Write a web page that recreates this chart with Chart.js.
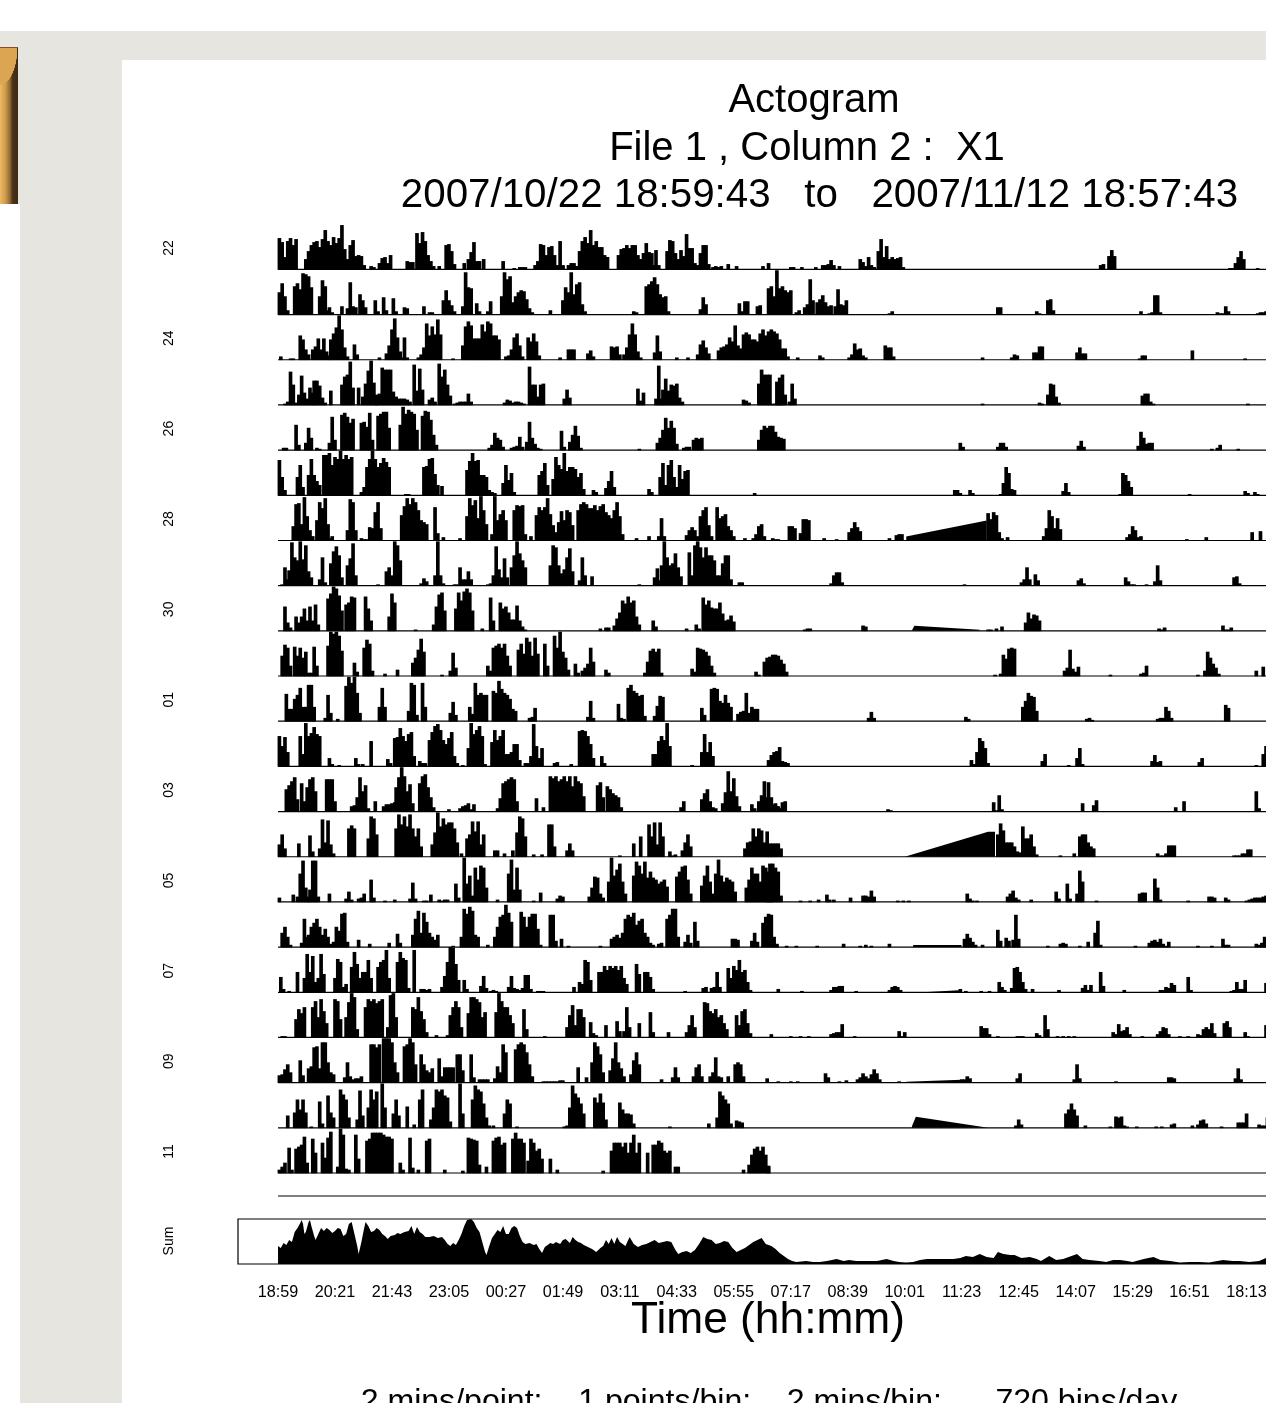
<!DOCTYPE html>
<html>
<head>
<meta charset="utf-8">
<title>Actogram</title>
<script src="https://cdn.jsdelivr.net/npm/chart.js@4"></script>
<style>
html, body { margin: 0; padding: 0; background: #fff; overflow: hidden; width: 1266px; height: 1403px; }
body { position: relative; font-family: "Liberation Sans", Arial, sans-serif; color: #000; }
#band { position: absolute; left: 0; top: 31px; width: 1266px; height: 173px; background: #e6e5e0; }
#column { position: absolute; left: 20px; top: 204px; width: 102px; height: 1199px; background: #e6e5e0; }
#panel { position: absolute; left: 122px; top: 60px; width: 1144px; height: 1343px; background: #fff; }
#gold { position: absolute; left: 0; top: 47px; width: 17.5px; height: 156px; border-top: 1px solid #8a4a2a;
    background: linear-gradient(to right, #f0b864 0, #cf9c4c 30%, #8f6a33 55%, #4a3418 70%, #3d2a12 100%); }
#corner { position: absolute; left: 0; top: 48px; width: 17.5px; height: 37px;
    background: radial-gradient(ellipse 17.5px 37px at 0 0, #dca552 0 98%, transparent 100%); }
canvas { position: absolute; left: 122px; top: 60px; filter: blur(0.4px); }
.line { position: absolute; white-space: pre; transform: translateX(-50%); font-size: 40px; line-height: 48px; }
</style>
</head>
<body>
<div id="band"></div>
<div id="column"></div>
<div id="panel"></div>
<div id="gold"></div>
<div id="corner"></div>
<canvas id="actogram" width="1180" height="1343"></canvas>
<div class="line" style="left:814px;top:74px">Actogram</div>
<div class="line" style="left:807px;top:121.5px">File 1 , Column 2 :  X1</div>
<div class="line" style="left:819.5px;top:169.5px;font-size:40.3px">2007/10/22 18:59:43   to   2007/11/12 18:57:43</div>
<div class="line" style="left:769px;top:1376px;font-size:32.1px">2 mins/point:    1 points/bin:    2 mins/bin:      720 bins/day</div>
<script>
// Each row is a list of bursts: [first bin, value, value, ...], one value per 2 bins
const row22 = [[0,31,27,12,28,31,24,30],[19,10,18,24,27,28,22,30,39,28,24,32,26,31,44,20,10,10,4],[51,24,29,13,14,13,4],[66,3,2],[72,6,11,12,6,14],[92,8,7,7],[99,36,26,37,28,14,8,3],[115,3],[120,24,25,18,5],[133,6],[136,10,17,27,8],[144,8],[147,10],[161,8],[169,1,0,2,2,2],[184,4,8,25,24,14,22,23,14,4,3,3],[202,28,4],[208,4,6,6,3],[216,18,28,32,26,39,24,28,22,22,14,12],[236,12],[244,14,20,21,24,21,24,24,14,10,6],[260,10,16,26,17,16,4],[271,19,4],[279,18,29,28,16,10,19,13,35,21,21,6,4],[303,16,24,24,5],[312,2,3,2,3],[323,5],[329,3],[348,3,0,6],[368,2,2],[376,2],[386,2],[391,4,4,5,9,4],[403,3],[418,10,7,3,12,4,2],[431,18,30,12,23,10,12,10,11,12,2],[591,4,5,0,13,19,13],[684,1,1,6,12,18,10],[704,1]];
const row23 = [[0,22,31,18,4],[11,28,31,25,41,40,38,27],[29,18,34,28,4],[36,7,2],[45,8],[49,6,32,8,7],[58,20,14,7],[69,14,3],[75,17,4],[82,16,3],[90,7,6],[104,8],[108,2,2],[118,14,24,14,9,3],[132,8,42,27,26],[142,11,3],[150,3,13],[160,18,42,35,38,12],[170,18,22,24,23,15,6,2],[195,4],[204,14,27,22,42,20,30,32,10,3],[255,3,2],[264,28,30,33,37,30,20,17,18,3],[303,5,17,10],[331,11,3,13,13],[344,8,9],[352,26,28,18,44,26,28,24,22,24],[372,2,4],[378,7,10,35,14],[387,12,15,19,12,8,9],[400,8,25,10,9,14],[439,1,3],[517,7,7],[545,3,1,0,0,14,15,4],[620,3],[626,1,2,19,19,2],[675,2,1,1,8,3],[704,1,2,2,3]];
const row24 = [[1,3],[8,1,1],[15,24,20,10,5],[24,10,13,21,10,21,8,4],[37,20,26,32,44,30,12,3],[54,15,5],[72,2],[77,6,14,30,41,22,8,2],[90,22,2],[100,2,5,12,36,24,33,25,40,25],[125,1],[132,14,33,38,34,21,21],[144,21,35,28,38,36,24,24,20],[163,3,4,10,22,26,14,3],[179,22,18,26,18,4],[202,2,0,0,10,10,10],[222,6,9,3],[239,13,12,13,5],[248,5,12,25,36,25,8,2],[270,7,24,8],[286,2],[294,2],[301,5,15,19,12,6],[316,9,12,13],[322,15,22,18,34,14,11,25,27,25,20,20,18,26,30,24,28],[354,30,28,26,20,11,11,3],[373,2],[389,4,2],[410,2,5,16,10,11,4,2],[436,14,12,12,3],[506,2],[527,2,5,4],[543,7,7,13,13],[574,7,12,6,6],[619,1,4,4],[657,9],[695,1]];
const row25 = [[4,1,3,33,20,2],[14,10,29,12,6],[22,17,12],[25,24,24,19,7,2],[37,14],[45,20,28,30,43,17],[57,17],[60,8,21,34,44,22,10],[70,3,11,37,35,35,35,13],[84,8,6,6,6,5,3],[97,40,14,36,15],[108,5,7,3],[115,41,28,35,20,9],[126,1,2,3,3,3,11,3],[162,2,5,4,2,3,3,2,1],[180,38,20,20,8,20,21],[205,6,15,7],[258,16,4,12],[271,6,39,6],[276,15,26,14,20,19,21,7,3],[334,5,4,2],[345,21,35,30,30],[353,30,1,1,2,2],[358,23,27,30,10],[367,3,21,6],[506,1],[547,2,1,0,10,21,20,8,2],[621,9,11,11,3,1],[697,1]];
const row26 = [[3,2,2],[12,25,5],[19,7,22,12],[27,2,1],[36,7,33,10],[45,35,37,33,27,31],[59,27,28,23,37,10],[71,34,36,38,38,22],[87,25,43,36,40,38,36,20],[103,34,39,38,30,15,5],[151,2,5,17,12,10,3],[167,2,3,4,13,3],[178,8,28,12,6,2,1],[203,19,3],[209,8,15,24,14,2],[259,1],[272,7,12,20,32,22,29,22,6],[291,2,3,3],[298,10,12,11,12],[345,10,20,24,22],[353,24,24,18,13,12,11],[490,7,3],[517,3,7,7,3],[575,4,9,3],[618,4,18,12,6,7,7],[671,1],[675,2,5],[690,1]];
const row27 = [[0,35,18,5],[13,18,30,8],[21,20,36,20,14,10],[32,40,40,42,30,38,36,44,36,40,36,38],[59,3,8,28,36,44,36,28,32,37,33,28],[91,1,1],[104,28,29,36,37,21,10],[117,9],[135,25,34,42,34,35,20,20,18,5,3,2],[161,12,30,15,22,3],[187,20,24,32,10],[197,16,38,30,26,42,24,28,28,26,18,22,6],[226,5,3],[235,7,14,24,8],[266,6,3],[274,18,32,10,30,35,18,8,30,16,24,25],[342,2],[486,5,5,2],[497,5,2],[519,1,12,28,22,6,5],[564,4,12,3],[605,1,22,20,14,8],[655,1],[695,4,2],[702,3,1]];
const row28 = [[10,14,36,37,16,43,24,10,4],[27,20,38,32,42,16,2],[38,4],[49,10,41,38,10],[59,2,1,1,13,12,28,38,12],[88,25,34,42,36,42,38,30,20,18,16],[112,33,7],[118,3],[130,2],[135,24,42,35,40,22,44,30,16],[153,6,44,20,26,30,20],[169,30,35,34,35,6],[181,4],[185,25,33,30,33,42,26,15,8],[201,18,29,20,30,28,15],[215,30,36,38,36,32,32,35,30,34,36,28,25,22,30,38,24,6],[257,2],[266,4],[273,4,22,4],[293,5,10,13,10,4],[303,24,30,33,15,4],[315,33,22,24,26,14,10,4],[335,2],[341,2,6,14,16,4],[355,2,1,1],[367,14,14,12],[375,7,21,21,20],[392,2],[401,1],[410,8,12,18,13,9],[439,2],[444,5,6,6],[510,27,21,28,25],[518,8,2],[524,3],[550,4,12,30,24,12,22,11],[610,3,6,14,10,3,4],[653,1],[667,3],[700,8],[706,9]];
const row29 = [[2,1,18,6],[7,15,43,28,25,44,26,40,14,8],[29,6,28,3],[37,22,34,39,30,8],[49,20,27,42,10],[71,1],[77,14,18,10,44,40,25],[102,2,7,4],[112,10,44,10],[118,2],[126,1,1,18,6,6,14,6],[150,1,2,10,39,16,8,27,8],[167,18,30,44,32,25,18],[195,20,40,38,20,12,16,28,37,14],[216,5,28,10],[225,9],[259,1],[270,8,17,5],[275,20,44,28,20,22,32,18,9],[295,33,10,40,44,38,28,38,30,30,25,10,10,22,30,30,6],[331,3,3],[397,2,10,13,13,3],[493,1],[534,3,6,18,6,0,11,5],[575,5,7,2],[609,8,4,1,1],[624,1],[630,4,20,5],[687,8,9,2]];
const row30 = [[4,24,8,3],[12,14,8,14,22,10,24,10,26,6],[35,32,37,44,42,35,20],[48,26,28,34,33],[62,34,22,10],[79,14,37,28],[98,1],[111,6,24,36,38,20],[127,22,38,30,39,42,38,20],[146,2],[152,33,10],[159,28,22,24,18,11,11,25,10,4,1],[231,2,0,3,3],[241,5,12,18,30,27,34,28,30,14,6],[269,10,4],[293,2],[300,6,2],[305,33,26,30,23,22,22,28,17,10,11,15,9],[378,1,2,2],[420,5,4],[510,1,1,0,2,0,4],[537,8,18,12,16,15,10],[633,2,1,3],[679,5,1,1,3]];
const row31 = [[2,20,31,28,10],[11,29,20,28,18,24,3],[23,3,29,10],[35,30,44,42,44,40,25],[54,13,4],[61,28,36,32,5],[76,2],[85,6],[96,13,18,26,37,24],[117,1],[123,5,23,8],[150,10,5],[154,28,30,32,28,32,20,10],[172,26,32,22,38,34,20,38,22],[191,32,10],[198,40,28,44,24,18,6],[213,12,3],[218,5,8,12,28,14],[235,6,3],[263,3,14,25,27,24,27,3],[297,7,4,28,27,26,24,20,10,3],[343,4,1],[349,14,18,19,21,21,20,16,12,4],[515,1],[519,2,21,17,27,28,27],[565,5,8,26,7,4,9],[598,1],[620,2,3,10],[661,1],[666,5,24,18,12,8,2],[703,5],[708,9]];
const row01 = [[5,27,12,12,22,26,33,14,14,36,36,14],[33,3,26,8],[42,2],[48,35,44,38,44,28,8],[72,14,33,14],[93,10,38,36,6],[103,38,14],[123,8,19,6],[137,14,7,38,26,28,26,26],[154,30,28,40,32,28,26,22,12,10],[180,3,4,13],[222,4,20,3],[244,17,3,2],[251,33,36,30,28,25,26,5],[270,5,15,25,24],[304,13,6],[311,32,33,32,20,18,26,18,14],[330,7,9,10,28,8,14,12,12],[424,3,9,3],[494,4,2],[535,14,20,28,25,24,10],[581,2,3,1],[632,2,3,3,14,10,3],[681,16,13]];
const row02 = [[0,30,20,29,14],[15,30,12,43,30,33,39,32,30],[36,8,2],[43,1],[55,8,2],[60,2],[66,25],[78,7,3],[83,28,29,38,30,25,32,34,10],[101,5,3,3],[108,26,34,40,42,36,26,22,28,34,10,3],[132,1],[136,18,43,32,36,40,30,2],[153,24,36,26,30,36,12],[165,12,14,22,22,6],[177,3,3,10,42,20,8,18],[198,3,4],[210,2],[216,35,36,35,30,22,8],[232,10,3],[269,12,12,25,30,26,43,20],[297,1],[304,14,32,14,24,10],[352,6,11,14,15,19,5,4,3],[498,6,2],[502,14,28,25,18,3],[549,5,12],[568,1],[574,8,18,2],[628,5,11,4,5],[662,4,8],[703,1],[708,12,20]];
const row03 = [[5,22,26,30,34,12],[16,28,10,24,32,34,20],[34,32,32,32,10],[52,5,6,14,34,20,26,3],[69,10],[75,5,7,7,8,9],[84,24,34,44,35,20,27,8],[101,28,35,37,24,14,4],[122,2],[130,3,5,6,8,2,7],[157,3,13,28,30,32,34,32,10],[185,13],[190,4],[195,35,33,35,30,32,35,30,35,25,35,30,28,15],[229,26,29,14],[236,25,22,18,16,14,4],[289,4,10],[304,12,18,22,10,4,3],[319,8,19,40,20,33,15,5],[340,7,3],[345,10,16,30,14,10,6,8,5],[352,29,14,7,5,3,9,10],[438,2,1],[514,9,1,1],[518,16,2],[578,8],[586,6,11],[645,4],[651,10],[703,20,3]];
const row04 = [[0,12,22,8],[14,13],[22,21,5],[29,8,37,14,36,12,3],[50,28,31,28],[64,18,40,38,22],[84,28,42,32,40,30,42,28,20,28,10],[110,12,24,44,30,38,32,34,34,28,14],[131,3],[135,18,22,35,25,35,12,22],[155,6,6],[162,3],[168,6],[171,24,40,38,20],[183,2,0,0,2],[194,32,32,10],[207,6,13,6],[245,1],[255,13],[260,20],[266,32,20,34,12,34,20],[281,5,1,2],[290,6,14,22,10],[335,8,14,15,28,20,28,26,14,12,13,12,8],[351,25,12,13,13,13,8],[517,22,33,26,14,14,14,10,5,4,30,18,18,22,10,2],[562,1],[572,3],[576,20,22,22,14,10,8],[632,3,1,1,3,11,11,11],[687,1,1,1,3,3,7,7]];
const row05 = [[0,4],[10,7],[13,5,28,41,14,5],[22,12,41,41,5],[36,8],[48,3,10,2],[57,3,4,8],[66,22,4],[76,1],[83,2],[94,3,19,3],[104,1,1],[109,7],[115,2,1,2,2],[127,18,4],[133,44,18,26,6],[141,34,22,36,34,14],[157,2],[165,28,42,12,34,12],[183,1],[188,9],[200,3,6,5],[223,5,14,25,24,8,4],[237,20,44,26,32,38,20,8],[255,26,40,36,28,40,24,30,24,22,18,20,22,15],[286,25,30,35,36,22,8],[304,16,26,36,20,8],[314,28,42,26,20,24,22,20,10],[336,14,22,34,28,28,20,36,34,30,8],[351,12,38,38,34,30,6],[375,1],[382,1],[388,2],[394,7,2],[399,2],[411,4],[420,6,6,5,11,5],[445,1,0,1,0,1],[495,8,3,1],[502,1],[524,5,8,11,4,2],[541,2],[559,10,3],[567,18,3],[574,8,31,20],[588,1],[619,8,9,9],[630,23,14,2],[654,1],[669,5,5,4],[681,4,2],[696,1,2,3,4,4,4,5,6,9,13]];
const row06 = [[2,14,20,10,2],[16,4,28,10],[21,12,20,24,28,20,12,18,10,3],[39,5,20,16,33,34,5],[57,7],[65,3],[79,4],[85,13,4],[96,12,28,36,14,34,25,14,10,7,12],[125,1],[131,10,38,33,40,36,12,10],[150,2],[155,10,20,30,32,42,34,25],[174,35,30,20,30,33,33,18,2],[195,32,32,6],[203,8],[208,1],[231,1],[239,8,10,12,9,14,28,32,30,34,22,26,28,14,10,4,2],[273,3,4],[279,28,32,38,38,10],[292,5,12,4],[299,25,6],[326,8,8,7],[340,6,14,5],[348,24,30,33,32,10,3],[358,2],[365,1],[372,1],[387,1],[406,3],[418,1,0,2,0,1],[439,3],[493,8,13,9,5,2],[506,2],[517,17,6],[523,9,6],[528,7,32,8],[553,1],[562,3,4,3],[576,1],[582,5],[587,14,26,2],[616,1],[626,4,6,7,5,8,3,1],[640,5],[661,1],[671,1],[679,8,2,2],[703,3,2,4,10,6]];
const row07 = [[1,15,3],[7,1],[13,20],[18,14,38,20,36,10,14,38,18],[40,14,33,30,5],[48,8],[52,25,40,28,14],[60,20,20,32,14],[71,25,30,32,42,14],[85,30,40,34,32,4],[97,42],[102,3,3,2,3],[117,5,16,30,45,44,28,12],[133,12,3],[145,6,16,4],[152,1,2,1],[165,5,16,4,3],[173,2,4,17,17,3],[186,1,1,1],[212,5],[216,10,8,32,30,12],[230,20,20,26,22,26,24,26,22,26,14,8],[257,28,18],[263,20,20,15,3],[292,1],[305,4,5],[311,4,5,20,5],[323,24,14,26,22,32,20,22,10,2],[359,3],[376,1],[397,2,5,5,6,6],[415,1],[439,2,5,6,5,2],[490,3],[494,1],[505,1,0,0,1],[518,10,5,2],[527,4,24,25,20,10,3],[542,3],[561,2],[578,4,7,2,7],[591,20,6],[608,2],[634,2,2,5,4,9,7],[654,15,2],[685,1,2,10,3,3,12],[710,9]];
const row08 = [[2,1,1],[12,18,28,24,30],[24,30,36,20,38,26,14],[40,38,36,18],[48,20,35,44,40,8],[62,30,38,36,38,34,36,38],[78,10,42,44,20],[96,30,28,40,26,18,5],[113,2,0,0,0,2],[123,22,30,36,30,10],[136,24,40,40,38,35,20,25],[156,25,44,36,30,30,22,14],[176,28,8],[191,1],[207,10,22,32,12,28,28,20],[224,15,4,2],[235,12],[243,16,6],[248,6,30,10],[259,14],[267,25,5],[280,5],[293,5,12,22,10],[306,35,34,26,24,28,20,22,14,8],[329,22,12,26,28,14,4],[354,3],[368,1],[375,1],[381,1],[397,3,4,5,5,13],[414,1],[446,6,1,5],[505,11,9,9,3],[517,1],[531,1,1,1],[545,4,2,0,22,8],[560,1,0,1,0,1,0,1],[600,5,3,13,6,7,10,3],[621,1],[632,3,6,10,9,3],[648,1],[654,1],[661,3,2,8,10,8,14,4],[680,14,16,10],[695,5,1],[710,12]];
const row09 = [[0,7,8,13,18,10],[15,22,7],[21,14,16,35,36,14],[31,40,40,20,10,8],[47,5,20,6],[53,3,4,4,6],[66,38,38,35,38],[75,44,44,44,40,20,10],[90,36,38,44,40,18],[102,28,18,12,10,14],[115,24,6],[119,15,15,15,15],[128,28,28,12],[138,28,5],[144,3,3,3,3],[155,4,16,10,38,30],[170,33,38,40,38,30,18,6],[190,1,1,1,1,1,1,2,2],[215,15],[221,5],[225,20,40,36,28,10],[238,12,24,40,20,14,6],[253,8,22,30,18],[275,3],[283,5,15,5],[298,6,15,18,6],[310,6,10,25,6,5],[323,6],[328,18,20,18,6],[351,4],[359,1],[368,1],[373,1],[393,9,5],[403,1],[408,2],[416,3,5,9,6,4,8,13,9,3],[446,1],[491,3,3],[495,6,4],[531,4,9],[572,3,18,4],[602,1],[640,5,5,4],[688,4,14,3]];
const row10 = [[6,12],[11,15,28,18,28,15],[23,1],[29,26,4],[35,32,15,10],[44,38,33,28,10],[56,8,37,12],[64,20,38,28,36],[74,44,20],[82,14,28,12],[92,21],[97,3],[101,28,38],[109,8,20,38,36,38,32,30,6],[130,44,14],[139,28,42,38,36,24,10,2],[154,2],[162,14,28,24],[171,1],[205,1],[207,2,20,42,34,30,24,14],[227,30,25,34,25,8],[245,25,18,14,14,13,4],[281,1],[309,4],[315,10,36,32,28,24,4],[329,7,6,5],[530,2,8,3],[566,14,18,24,18,12],[580,2],[598,1],[602,11,10,11,2,1],[617,1],[631,1],[635,1],[642,3,4],[657,2],[661,3,7,8,4],[678,1],[690,5,5,5,14],[705,3,2,2,10]];
const row11 = [[0,3,6,10],[7,25,3],[12,24,26,28,36,10],[24,34,20],[31,30,15,35,41],[42,6,44,38,4,3],[55,38,14],[63,32,34,40,40,40,40,38,36,36,34],[87,10,3],[94,35,5],[100,3],[106,32,34],[119,3],[132,2],[136,35,34,33,32,8],[149,6],[154,32,35,36,28,30],[168,34,40,34,34,30],[179,12,34,30,22,24,14],[195,14],[200,3],[233,2],[239,22,30,30,30,26,30,20,30,38,20,30],[265,20],[269,28,28,32,30,22,20,22],[285,6,6],[334,3],[338,8,18,24,26,22,26,18,6],[352,7]];
const rows = [row22, row23, row24, row25, row26, row27, row28, row29, row30, row31, row01, row02, row03, row04, row05, row06, row07, row08, row09, row10, row11];

// interpolated gaps in the recording: [bin, value] at both ends, keyed by row index
const ramp28 = [[452,4],[510,20]];
const ramp30 = [[456,0],[458,5],[505,1]];
const ramp04 = [[451,0],[511,25],[516,25]];
const ramp06 = [[457,2],[492,2]];
const ramp07 = [[464,0],[490,2]];
const ramp09 = [[452,1],[492,3]];
const ramp10 = [[456,1],[459,11],[511,0]];
const rampRows = [[6, ramp28], [8, ramp30], [13, ramp04], [15, ramp06], [16, ramp07], [18, ramp09], [19, ramp10]];

const sumBins = [0,0,2,4,6,8,10,12,14,16,17,18,19,20,22,23,24,26,27,29,31,33,35,37,39,41,43,45,47,49,51,53,55,57,58,60,62,63,65,67,69,71,73,75,77,79,81,84,86,88,91,94,96,98,100,102,104,106,109,112,115,118,120,122,124,126,128,130,132,134,136,139,141,143,145,147,149,150,152,154,156,158,160,162,164,166,168,170,172,174,176,178,181,184,186,188,190,192,194,196,198,200,203,205,207,210,212,214,216,218,220,223,226,229,232,234,236,238,240,242,244,246,248,250,253,256,259,262,265,268,271,274,277,280,283,286,288,291,294,297,300,303,306,309,312,315,318,321,324,327,330,333,336,339,342,345,348,351,355,358,361,364,367,370,373,380,385,390,395,402,407,411,416,421,426,431,438,443,447,452,457,462,467,486,491,495,500,505,510,515,518,522,527,530,535,541,546,549,555,560,565,569,575,579,584,591,596,601,606,611,615,623,630,635,642,649,656,663,670,680,687,692,699,706,711,720];
const sumVals = [0,18,16,21,19,24,22,32,36,41,44,40,30,32,42,44,38,28,24,30,36,33,36,34,31,33,36,35,28,30,40,42,30,18,10,22,36,42,38,32,33,36,34,30,28,25,28,29,31,30,32,33,38,30,37,32,30,27,27,28,26,27,24,20,18,21,19,24,30,38,44,45,42,36,32,22,12,9,18,26,30,34,32,38,30,30,36,38,36,28,22,20,21,19,20,15,11,17,19,21,20,22,20,24,25,21,27,24,22,21,19,17,15,12,16,18,24,20,26,20,27,22,20,18,27,20,17,19,20,22,24,21,22,23,22,14,10,12,13,11,14,20,27,25,24,20,21,23,22,16,12,14,16,19,22,24,26,20,18,15,11,8,5,3,2,3,2,2,3,5,3,4,3,3,3,3,5,3,2,1.5,2,4,5,5,6,8,7,10,7,6,12,10,9,9,6,7,5,3,8,4,5,7,10,5,4,3,2,4,4,3,2,5,7,4,3,1.5,2,2,1.5,4,3,3,2,3,6,6];

const rowLabels = ['22', '24', '26', '28', '30', '01', '03', '05', '07', '09', '11'];
const timeLabels = ['18:59','20:21','21:43','23:05','00:27','01:49','03:11','04:33','05:55','07:17','08:39','10:01','11:23','12:45','14:07','15:29','16:51','18:13'];

const ROW_STEP = 45.18;
const LAST_BASE = 91;        // base of row 11 above the bottom of the Sum box
const BLANK_BASE = 68;       // the empty last row
const SUM_TOP = 45;
const BOX_LEFT = -28.8;
const X_MAX = 734;
const BINS_PER_TICK = 41;
const LABEL_LIFT = 21.5;

const rowBase = i => LAST_BASE + (rows.length - 1 - i) * ROW_STEP;

function burstsToPoints(bursts, base) {
    const points = [];
    bursts.forEach(burst => {
        burst.slice(1).forEach((v, k) => {
            if (v > 0) points.push({ x: burst[0] + 2 * k + 1, y: base + v });
        });
    });
    return points;
}

function baseLine(base) {
    return {
        type: 'line',
        data: [{ x: 0, y: base }, { x: 720, y: base }],
        borderColor: '#000',
        borderWidth: 1.2,
        pointRadius: 0,
        clip: false
    };
}

const datasets = [];

rows.forEach((bursts, i) => {
    datasets.push({
        data: burstsToPoints(bursts, rowBase(i)),
        base: rowBase(i),
        backgroundColor: '#000',
        borderWidth: 0,
        barThickness: 3,
        grouped: false
    });
    datasets.push(baseLine(rowBase(i)));
});

rampRows.forEach(([i, ramp]) => {
    datasets.push({
        type: 'line',
        data: ramp.map(p => ({ x: p[0], y: rowBase(i) + p[1] })),
        borderColor: '#000',
        borderWidth: 0,
        backgroundColor: '#000',
        pointRadius: 0,
        fill: { value: rowBase(i) }
    });
});

datasets.push(baseLine(BLANK_BASE));

// Sum profile
datasets.push({
    type: 'line',
    data: sumBins.map((b, i) => ({ x: b, y: sumVals[i] })),
    borderColor: '#000',
    borderWidth: 0,
    backgroundColor: '#000',
    pointRadius: 0,
    fill: { value: 0 }
});

// Sum box, open to the right
datasets.push({
    type: 'line',
    data: [{ x: X_MAX, y: SUM_TOP }, { x: BOX_LEFT, y: SUM_TOP }, { x: BOX_LEFT, y: 0 }, { x: X_MAX, y: 0 }],
    borderColor: '#000',
    borderWidth: 1.2,
    pointRadius: 0,
    clip: false
});

const yTicks = rowLabels.map((t, k) => ({ value: rowBase(k * 2) + LABEL_LIFT, label: t }));
yTicks.push({ value: 23, label: 'Sum' });

new Chart(document.getElementById('actogram'), {
    type: 'bar',
    data: { datasets },
    options: {
        responsive: false,
        animation: false,
        layout: { padding: { top: 162, right: 4, left: 0, bottom: 0 } },
        plugins: { legend: { display: false }, tooltip: { enabled: false } },
        scales: {
            x: {
                type: 'linear',
                offset: false,
                min: BOX_LEFT,
                max: X_MAX,
                grid: { display: false, drawTicks: false },
                border: { display: false },
                afterBuildTicks: scale => {
                    scale.ticks = timeLabels.map((t, i) => ({ value: i * BINS_PER_TICK }));
                },
                afterFit: scale => { scale.height = 139; },
                ticks: {
                    autoSkip: false,
                    maxRotation: 0,
                    minRotation: 0,
                    padding: 19,
                    color: '#000',
                    font: { family: '"Liberation Sans"', size: 16.2 },
                    callback: (v, i) => timeLabels[i]
                },
                title: {
                    display: true,
                    text: 'Time (hh:mm)',
                    color: '#000',
                    font: { family: '"Liberation Sans"', size: 44.3 },
                    padding: { top: 0, bottom: 55.5 }
                }
            },
            y: {
                type: 'linear',
                min: 0,
                max: 1042,
                grid: { display: false, drawTicks: false },
                border: { display: false },
                afterBuildTicks: scale => { scale.ticks = yTicks.map(t => ({ value: t.value })); },
                afterFit: scale => { scale.width = 116; },
                ticks: {
                    autoSkip: false,
                    minRotation: 90,
                    maxRotation: 90,
                    crossAlign: 'center',
                    padding: 54,
                    color: '#000',
                    font: { family: '"Liberation Sans"', size: 14 },
                    callback: (v, i) => yTicks[i].label
                }
            }
        }
    }
});
</script>
</body>
</html>
